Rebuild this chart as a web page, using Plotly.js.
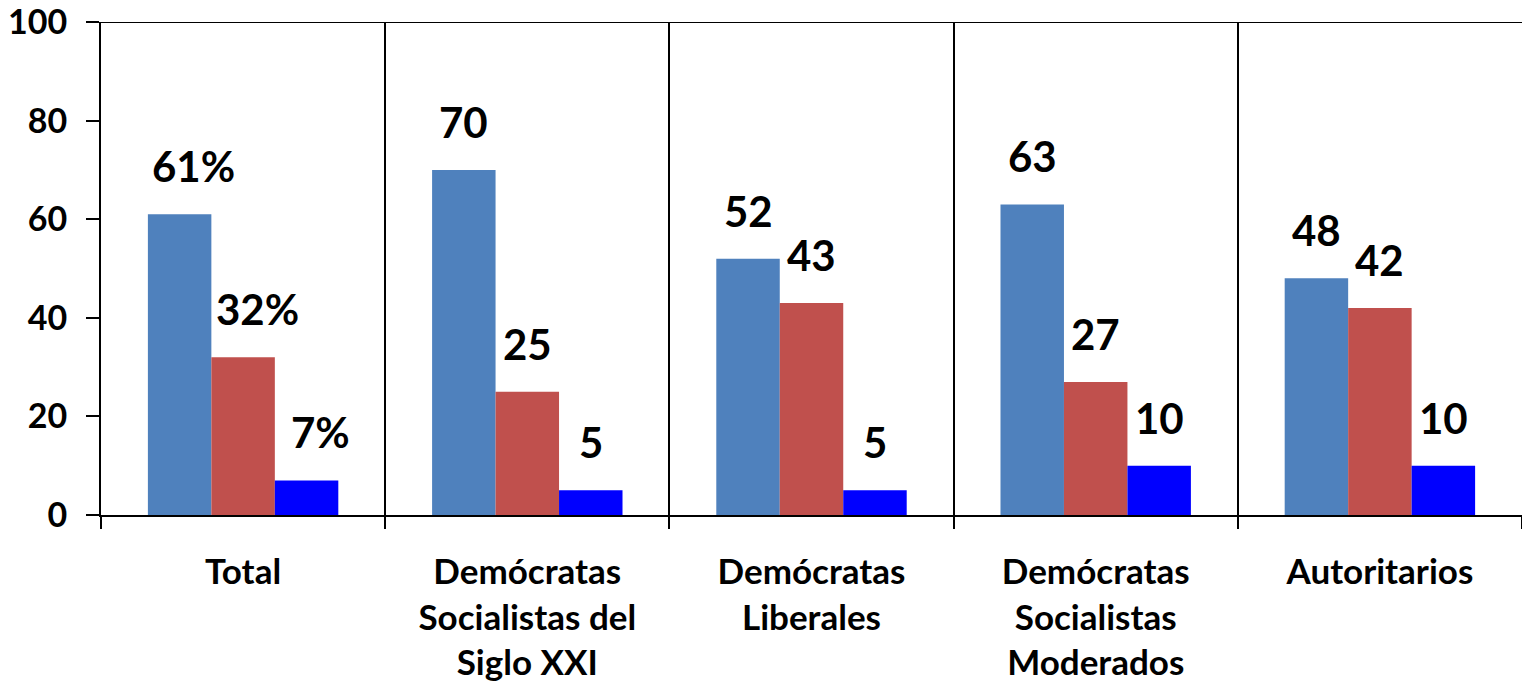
<!DOCTYPE html>
<html>
<head>
<meta charset="utf-8">
<script src="https://cdn.plot.ly/plotly-3.0.1.min.js"></script>
<style>html,body{margin:0;padding:0;background:#fff;}#chart{width:1522px;height:684px;}</style>
</head>
<body>
<div id="chart"></div>
<script>
const categories = ["Total", "Demócratas<br>Socialistas del<br>Siglo XXI", "Demócratas<br>Liberales", "Demócratas<br>Socialistas<br>Moderados", "Autoritarios"];
const series1 = [61, 70, 52, 63, 48];
const series2 = [32, 25, 43, 27, 42];
const series3 = [7, 5, 5, 10, 10];
const labels1 = ["61%", "70", "52", "63", "48"];
const labels2 = ["32%", "25", "43", "27", "42"];
const labels3 = ["7%", "5", "5", "10", "10"];
const yTicks = [0, 20, 40, 60, 80, 100];

const FONT = "Lato, 'Open Sans', sans-serif";
const colors = ["#4F81BD", "#C0504D", "#0000FF"];
const allSeries = [series1, series2, series3];
const allLabels = [labels1, labels2, labels3];
const bargap = 0.33;
const bw = (1 - bargap) / 3;

const traces = allSeries.map((vals, j) => ({
  type: "bar",
  x: categories,
  y: vals,
  marker: {color: colors[j], line: {width: 0}},
  hoverinfo: "skip",
  showlegend: false
}));

const annotations = [];
allSeries.forEach((vals, j) => {
  vals.forEach((v, i) => {
    const lab = allLabels[j][i];
    annotations.push({
      x: i + (j - 1) * bw,
      y: v,
      xref: "x", yref: "y",
      text: lab,
      showarrow: false,
      yanchor: "bottom",
      yshift: 21,
      xshift: lab.indexOf("%") >= 0 ? 14 : 0,
      font: {family: FONT, size: 42, color: "#000", weight: "bold"}
    });
  });
});

const layout = {
  width: 1522, height: 684,
  margin: {l: 101, r: 0, t: 22, b: 169},
  paper_bgcolor: "#fff", plot_bgcolor: "#fff",
  barmode: "group",
  bargap: bargap,
  bargroupgap: 0,
  font: {family: FONT, color: "#000"},
  xaxis: {
    type: "category",
    tickson: "boundaries",
    ticks: "outside", ticklen: 12, tickwidth: 2, tickcolor: "#000",
    showgrid: true, gridcolor: "#000", gridwidth: 2,
    showline: true, linecolor: "#000", linewidth: 2,
    tickfont: {family: FONT, size: 35, color: "#000", weight: "bold"},
    ticklabelstandoff: 25,
    ticklabeloverflow: "allow",
    fixedrange: true
  },
  yaxis: {
    range: [0, 100],
    tickvals: yTicks,
    ticktext: yTicks.map(String),
    ticks: "outside", ticklen: 13, tickwidth: 2, tickcolor: "#000",
    showgrid: false, zeroline: false,
    showline: true, linecolor: "#000", linewidth: 2,
    tickfont: {family: FONT, size: 34, color: "#000", weight: "bold"},
    ticklabelstandoff: 12,
    ticklabeloverflow: "allow",
    fixedrange: true
  },
  shapes: [{
    type: "line", xref: "paper", yref: "y",
    x0: 0, x1: 1, y0: 100, y1: 100,
    line: {color: "#000", width: 2}
  }],
  annotations: annotations
};

Plotly.newPlot("chart", traces, layout, {displayModeBar: false, staticPlot: true});
</script>
</body>
</html>
